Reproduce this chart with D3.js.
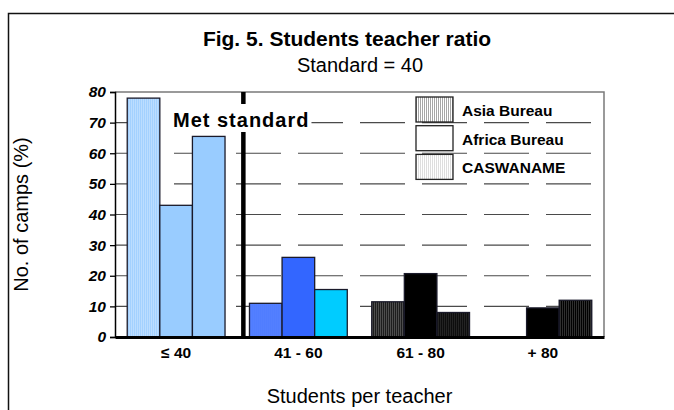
<!DOCTYPE html>
<html>
<head>
<meta charset="utf-8">
<script src="https://cdn.jsdelivr.net/npm/d3@7"></script>
<style>
  html, body { margin: 0; padding: 0; background: #fff; }
  svg { display: block; font-family: Arial, "Liberation Sans", Helvetica, sans-serif; }
</style>
</head>
<body>
<svg id="chart" width="674" height="410"></svg>
<script>
// Students per teacher bands
const categories = ["≤ 40", "41 - 60", "61 - 80", "+ 80"];
const seriesNames = ["Asia Bureau", "Africa Bureau", "CASWANAME"];

// Share of camps (%) in each band, per bureau
const asiaValues = [78, 11, 11.5, null];
const africaValues = [43, 26, 20.7, 9.5];
const caswanameValues = [65.5, 15.5, 8, 12];

const yTicks = [0, 10, 20, 30, 40, 50, 60, 70, 80];
const gridValues = [10, 20, 30, 40, 50, 60, 70];

const standardLabel = "Met standard";
const titleText = "Fig. 5. Students teacher ratio";
const subtitleText = "Standard = 40";

const svg = d3.select("#chart");
const defs = svg.append("defs");

// Vertical-stripe fills: [id, base colour, stripe colour]
const stripeFills = [
  ["legAsia", "#ffffff", "#a6a6a6"],
  ["legCasw", "#ffffff", "#dedede"],
  ["lightAsia", "#99ccff", "#c6e2ff"],
  ["blueAsia", "#3366ff", "#7096ff"],
  ["darkAsia", "#000000", "#6a6a6a"],
  ["darkCasw", "#000000", "#303030"]
];
stripeFills.forEach(([id, base, stripe]) => {
  const p = defs.append("pattern").attr("id", id)
    .attr("patternUnits", "userSpaceOnUse").attr("width", 2).attr("height", 4);
  p.append("rect").attr("width", 2).attr("height", 4).attr("fill", base);
  p.append("rect").attr("width", 1).attr("height", 4).attr("fill", stripe);
});

// Per-band fill for each bureau
const fills = {
  "Asia Bureau": ["url(#lightAsia)", "url(#blueAsia)", "url(#darkAsia)", "url(#darkAsia)"],
  "Africa Bureau": ["#99ccff", "#3366ff", "#000000", "#000000"],
  "CASWANAME": ["#99ccff", "#00ccff", "url(#darkCasw)", "url(#darkCasw)"]
};
const legendFills = ["url(#legAsia)", "#ffffff", "url(#legCasw)"];

const plot = { left: 115, right: 604, top: 92, bottom: 337 };

// Outer frame
svg.append("rect")
  .attr("x", 8.5).attr("y", 13.5).attr("width", 720).attr("height", 420)
  .attr("fill", "none").attr("stroke", "#111").attr("stroke-width", 1.5);

const x0 = d3.scaleBand().domain(categories)
  .range([plot.left, plot.right]).paddingInner(0.2).paddingOuter(0.1);
const x1 = d3.scaleBand().domain(seriesNames).range([0, x0.bandwidth()]);
const y = d3.scaleLinear().domain([0, 80]).range([plot.bottom, plot.top]);

// Plot border (top and right)
svg.append("path")
  .attr("d", `M${plot.left},${plot.top}H${plot.right}V${plot.bottom}`)
  .attr("fill", "none").attr("stroke", "#7a7a7a").attr("stroke-width", 1.5);

// Dashed gridlines
svg.append("g").selectAll("line").data(gridValues).join("line")
  .attr("x1", plot.left + 1).attr("x2", plot.right - 1)
  .attr("y1", d => y(d)).attr("y2", d => y(d))
  .attr("stroke", "#4a4a4a").attr("stroke-width", 1.2)
  .attr("stroke-dasharray", "45,17").attr("stroke-dashoffset", 4);

// Bars
const rows = categories.map((c, i) => ({
  cat: c, i,
  vals: [asiaValues[i], africaValues[i], caswanameValues[i]]
}));
const groups = svg.append("g").selectAll("g").data(rows).join("g")
  .attr("transform", d => `translate(${x0(d.cat)},0)`);
groups.selectAll("rect")
  .data(d => seriesNames.map((s, k) => ({ s, v: d.vals[k], i: d.i })).filter(e => e.v != null))
  .join("rect")
  .attr("x", d => x1(d.s)).attr("width", x1.bandwidth())
  .attr("y", d => y(d.v)).attr("height", d => y(0) - y(d.v))
  .attr("fill", d => fills[d.s][d.i])
  .attr("stroke", "#1a1a2a").attr("stroke-width", 1.3);

// Standard = 40 marker
const stdX = x0(categories[1]) - x0.step() * 0.05;
svg.append("line")
  .attr("x1", stdX).attr("x2", stdX).attr("y1", plot.top).attr("y2", plot.bottom)
  .attr("stroke", "#000").attr("stroke-width", 4.5);

const stdText = svg.append("text")
  .attr("x", 173).attr("y", 127)
  .attr("font-size", 20).attr("font-weight", "bold").attr("letter-spacing", 1)
  .attr("fill", "#000").text(standardLabel);
const bb = stdText.node().getBBox();
svg.insert("rect", "text")
  .attr("x", bb.x - 3).attr("y", bb.y - 5).attr("width", bb.width + 5).attr("height", bb.height + 6)
  .attr("fill", "#fff");

// Y axis
const yAxis = svg.append("g").attr("transform", `translate(${plot.left},0)`)
  .call(d3.axisLeft(y).tickValues(yTicks).tickSize(5).tickPadding(4));
yAxis.select(".domain").attr("stroke", "#000").attr("stroke-width", 1.5);
yAxis.selectAll(".tick line").attr("stroke", "#000").attr("stroke-width", 1.3);
yAxis.selectAll(".tick text")
  .attr("font-family", "Arial, 'Liberation Sans', sans-serif")
  .attr("font-size", 15.5).attr("font-weight", "bold").attr("font-style", "italic").attr("fill", "#000");

// X axis (category labels, no ticks)
const xAxis = svg.append("g").attr("transform", `translate(0,${plot.bottom})`)
  .call(d3.axisBottom(x0).tickSize(0).tickPadding(10));
xAxis.select(".domain").attr("stroke", "#000").attr("stroke-width", 3);
xAxis.selectAll(".tick text")
  .attr("font-family", "Arial, 'Liberation Sans', sans-serif")
  .attr("font-size", 15.5).attr("font-weight", "bold").attr("fill", "#000");

// Legend
const legend = svg.append("g").selectAll("g").data(seriesNames).join("g")
  .attr("transform", (d, i) => `translate(416,${97 + i * 28.7})`);
legend.append("rect")
  .attr("width", 37).attr("height", 25)
  .attr("fill", (d, i) => legendFills[i])
  .attr("stroke", "#222").attr("stroke-width", 1.3);
legend.append("text")
  .attr("x", 46).attr("y", 19)
  .attr("font-size", 15.5).attr("font-weight", "bold").attr("fill", "#000")
  .text(d => d);

// Titles
svg.append("text").attr("x", 347).attr("y", 46).attr("text-anchor", "middle")
  .attr("font-size", 21).attr("font-weight", "bold").text(titleText);
svg.append("text").attr("x", 360).attr("y", 72).attr("text-anchor", "middle")
  .attr("font-size", 20).text(subtitleText);
svg.append("text").attr("x", (plot.left + plot.right) / 2).attr("y", 403).attr("text-anchor", "middle")
  .attr("font-size", 20).text("Students per teacher");
svg.append("text")
  .attr("transform", `translate(28,${(plot.top + plot.bottom) / 2}) rotate(-90)`)
  .attr("text-anchor", "middle").attr("font-size", 20).text("No. of camps (%)");
</script>
</body>
</html>
